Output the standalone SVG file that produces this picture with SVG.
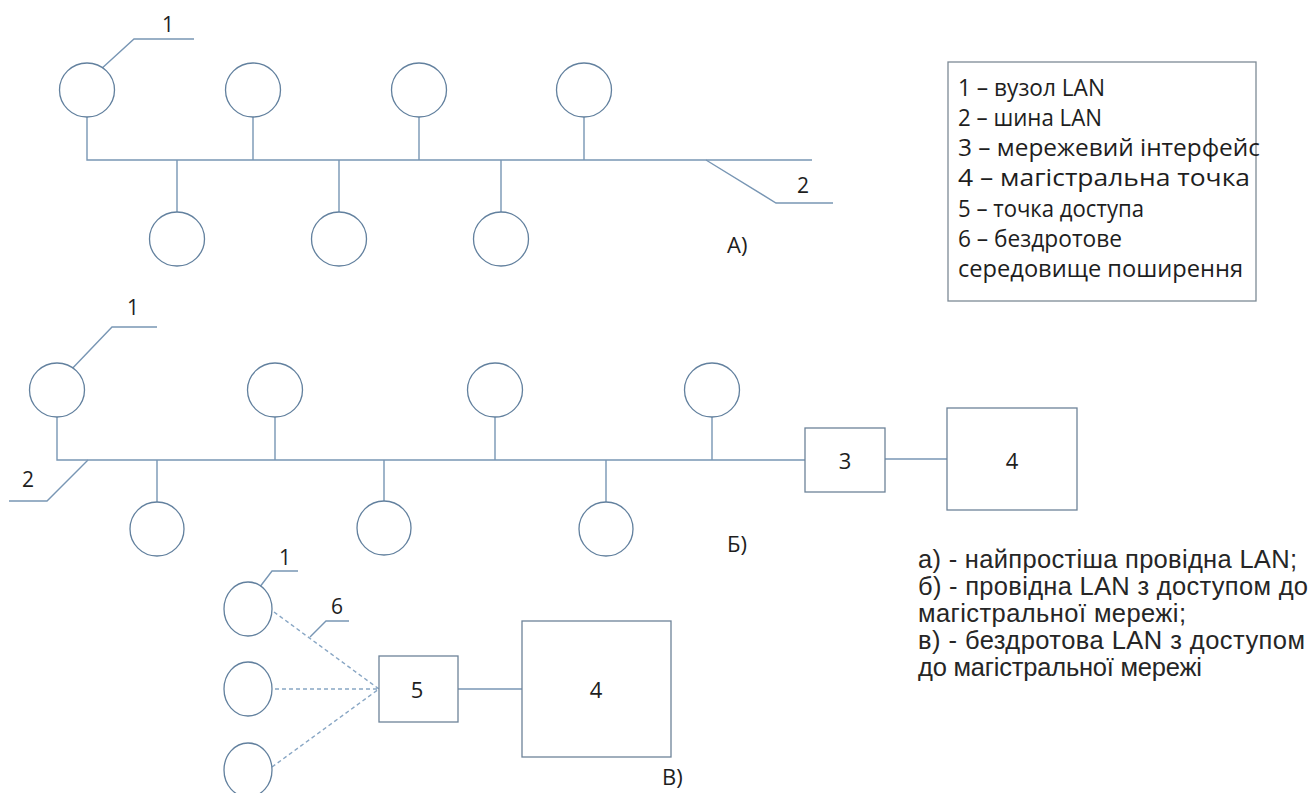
<svg xmlns="http://www.w3.org/2000/svg" width="1314" height="793" viewBox="0 0 1314 793">
<style>
.c{fill:#fff;stroke:#62809e;stroke-width:1.3}
.l{fill:none;stroke:#7896b4;stroke-width:1.4}
.d{fill:none;stroke:#88a6c4;stroke-width:1.4;stroke-dasharray:4 3}
.b{fill:#fff;stroke:#6d8399;stroke-width:1.3}
.t{font-family:"Open Sans","Noto Sans",sans-serif;fill:#1e1e1e}
.n{font-size:21px;text-anchor:middle}
.m{font-size:22px}
.bx{font-size:22px;text-anchor:middle;dominant-baseline:central}
.lg{font-size:23px}
.cap{font-family:"Liberation Sans",Arial,sans-serif;font-size:25.5px;fill:#262626}
</style>
<rect width="1314" height="793" fill="#fff"/>
<g id="connectors">
<path class="l" d="M87 117V160H812M253 117V160M419 117V160M584 117V160M177 160V212M339 160V212M501 160V212"/>
<path class="l" d="M100 70L134 39H194M706 160L776 203H833"/>
<path class="l" d="M57 417V460H805M275 417V460M495 417V460M712 417V460M157 460V502M384 460V501M606 460V502"/>
<path class="l" d="M68 373L112 327H157M88 460L47 501H9"/>
<path class="l" d="M885 459H947"/>
<path class="d" d="M274 612L379 689M275 689H379M272 767L379 689"/>
<path class="l" d="M256 592L272 571H298M310 637L326 621H349"/>
<path class="l" d="M458 689H522"/>
</g>
<g id="nodesA">
<ellipse class="c" cx="87" cy="90" rx="27.5" ry="27"/>
<ellipse class="c" cx="253" cy="90" rx="27.5" ry="27"/>
<ellipse class="c" cx="419" cy="90" rx="27.5" ry="27"/>
<ellipse class="c" cx="584" cy="90" rx="27.5" ry="27"/>
<ellipse class="c" cx="177" cy="239" rx="27.5" ry="27"/>
<ellipse class="c" cx="339" cy="239" rx="27.5" ry="27"/>
<ellipse class="c" cx="501" cy="239" rx="27.5" ry="27"/>
<text class="t n" x="168" y="32">1</text>
<text class="t n" x="803" y="193">2</text>
<text class="t m" x="727" y="253">А)</text>
</g>
<g id="nodesB">
<ellipse class="c" cx="57" cy="390" rx="27.5" ry="27"/>
<ellipse class="c" cx="275" cy="390" rx="27.5" ry="27"/>
<ellipse class="c" cx="495" cy="390" rx="27.5" ry="27"/>
<ellipse class="c" cx="712" cy="390" rx="27.5" ry="27"/>
<ellipse class="c" cx="157" cy="529" rx="27" ry="27"/>
<ellipse class="c" cx="384" cy="528" rx="27" ry="27"/>
<ellipse class="c" cx="606" cy="529" rx="27" ry="27"/>
<text class="t n" x="133" y="315">1</text>
<text class="t n" x="28" y="487">2</text>
<text class="t m" x="727" y="552">Б)</text>
</g>
<g id="box3">
<rect class="b" x="805" y="428" width="80" height="64"/>
<text class="t bx" x="845" y="460">3</text>
</g>
<g id="box4b">
<rect class="b" x="947" y="408" width="130" height="102"/>
<text class="t bx" x="1012" y="460">4</text>
</g>
<g id="nodesV">
<ellipse class="c" cx="248" cy="609" rx="24" ry="27"/>
<ellipse class="c" cx="248" cy="689" rx="24" ry="27"/>
<ellipse class="c" cx="248" cy="770" rx="24" ry="27"/>
<text class="t n" x="285" y="565">1</text>
<text class="t n" x="337" y="614">6</text>
<text class="t m" x="662" y="785">В)</text>
</g>
<g id="box5">
<rect class="b" x="379" y="656" width="79" height="66"/>
<text class="t bx" x="417" y="689">5</text>
</g>
<g id="box4v">
<rect class="b" x="522" y="621" width="149" height="136"/>
<text class="t bx" x="596" y="689">4</text>
</g>
<g id="legend">
<rect x="948" y="62" width="308" height="239" fill="#fff" stroke="#7d8a96" stroke-width="1.3"/>
<text class="t lg" x="958" y="96" textLength="147" lengthAdjust="spacingAndGlyphs">1 – вузол LAN</text>
<text class="t lg" x="958" y="126" textLength="144" lengthAdjust="spacingAndGlyphs">2 – шина LAN</text>
<text class="t lg" x="958" y="156" textLength="302" lengthAdjust="spacingAndGlyphs">3 – мережевий інтерфейс</text>
<text class="t lg" x="958" y="186" textLength="292" lengthAdjust="spacingAndGlyphs">4 – магістральна точка</text>
<text class="t lg" x="958" y="217" textLength="186" lengthAdjust="spacingAndGlyphs">5 – точка доступа</text>
<text class="t lg" x="958" y="247" textLength="164" lengthAdjust="spacingAndGlyphs">6 – бездротове</text>
<text class="t lg" x="958" y="277" textLength="285" lengthAdjust="spacingAndGlyphs">середовище поширення</text>
</g>
<g id="caption">
<text class="cap" x="918" y="568" textLength="379" lengthAdjust="spacing">а) - найпростіша провідна LAN;</text>
<text class="cap" x="918" y="595" textLength="390" lengthAdjust="spacing">б) - провідна LAN з доступом до</text>
<text class="cap" x="918" y="622" textLength="268" lengthAdjust="spacing">магістральної мережі;</text>
<text class="cap" x="918" y="649" textLength="387" lengthAdjust="spacing">в) - бездротова LAN з доступом</text>
<text class="cap" x="918" y="676" textLength="284" lengthAdjust="spacing">до магістральної мережі</text>
</g>
</svg>
